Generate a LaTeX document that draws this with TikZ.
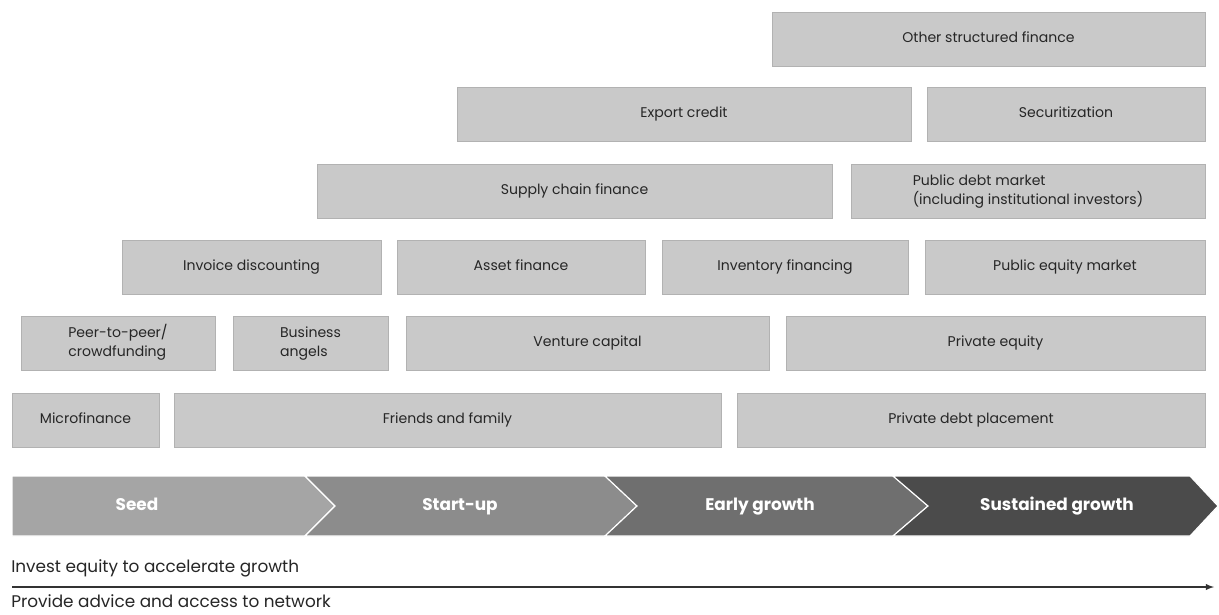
\documentclass[tikz,border=0pt]{standalone}
\usepackage{fontspec}
\setmainfont{Poppins}
\usepackage{xcolor}
\usetikzlibrary{calc}

\definecolor{seedgray}{HTML}{A5A5A5}
\definecolor{startgray}{HTML}{8C8C8C}
\definecolor{earlygray}{HTML}{6F6F6F}
\definecolor{sustgray}{HTML}{4B4B4B}

\begin{document}
\begin{tikzpicture}[x=0.025cm, y=-0.025cm,
    finbox/.style={draw=gray!60, fill=gray!42, inner sep=0pt, align=center,
                   text=black!85, font=\fontsize{10}{14}\selectfont},
    stage/.style={text=white, text height=1.5ex, text depth=0.3ex,
                  font=\bfseries\fontsize{12}{14}\selectfont},
    note/.style={anchor=west, inner sep=0pt, text=black!85, font=\fontsize{12}{14}\selectfont}]

        \useasboundingbox (0,0) rectangle (1219,614);

        % Parameters
        \def\rowHeight{54}      % height of a financing box
        \def\chevTop{476}       % top of the stage band
        \def\chevBot{536}       % bottom of the stage band
        \def\chevMid{506}       % tip height

        % Function to draw a financing box
        \newcommand{\finBox}[5]{
            % #1 name, #2 left, #3 right, #4 top, #5 text
            \pgfmathsetmacro{\boxW}{(#3-#2)*0.025}
            \node[finbox, minimum width=\boxW cm, minimum height=\rowHeight*0.025cm]
                (#1) at ({(#2+#3)/2}, {#4+\rowHeight/2}) {#5\strut};
        }

        % Financing instruments
        \finBox{other}{772}{1205}{12}{Other structured finance}

        \finBox{export}{457}{911}{87}{Export credit}
        \finBox{secur}{927}{1205}{87}{Securitization}

        \finBox{supply}{317}{832}{164}{Supply chain finance}
        \finBox{pubdebt}{851}{1205}{164}{\begin{tabular}{@{}l@{}}Public debt market\\(including institutional investors)\end{tabular}}

        \finBox{invoice}{122}{381}{240}{Invoice discounting}
        \finBox{asset}{397}{645}{240}{Asset finance}
        \finBox{inventory}{662}{908}{240}{Inventory financing}
        \finBox{pubequity}{925}{1205}{240}{Public equity market}

        \finBox{peer}{21}{215}{316}{\begin{tabular}{@{}l@{}}Peer-to-peer/\\crowdfunding\end{tabular}}
        \finBox{angels}{233}{388}{316}{\begin{tabular}{@{}l@{}}Business\\angels\end{tabular}}
        \finBox{venture}{406}{769}{316}{Venture capital}
        \finBox{privequity}{786}{1205}{316}{Private equity}

        \finBox{micro}{12}{159}{393}{Microfinance}
        \finBox{friends}{174}{721}{393}{Friends and family}
        \finBox{privdebt}{737}{1205}{393}{Private debt placement}

        % Stages
        \filldraw[seedgray, draw=white, line width=0.8pt] (12,\chevTop) -- (305,\chevTop) -- (335,\chevMid)
            -- (305,\chevBot) -- (12,\chevBot) -- cycle;
        \filldraw[startgray, draw=white, line width=0.8pt] (305,\chevTop) -- (605,\chevTop) -- (637,\chevMid)
            -- (605,\chevBot) -- (305,\chevBot) -- (335,\chevMid) -- cycle;
        \filldraw[earlygray, draw=white, line width=0.8pt] (605,\chevTop) -- (893,\chevTop) -- (928,\chevMid)
            -- (893,\chevBot) -- (605,\chevBot) -- (637,\chevMid) -- cycle;
        \filldraw[sustgray, draw=white, line width=0.8pt] (893,\chevTop) -- (1190,\chevTop) -- (1218,\chevMid)
            -- (1190,\chevBot) -- (893,\chevBot) -- (928,\chevMid) -- cycle;

        \node[stage] (seed) at (137,\chevMid) {Seed};
        \node[stage] (startup) at (460,\chevMid) {Start-up};
        \node[stage] (early) at (760,\chevMid) {Early growth};
        \node[stage] (sustained) at (1057,\chevMid) {Sustained growth};

        % Time line
        \coordinate (lineStart) at (12,587);
        \coordinate (lineEnd) at (1214,587);
        \draw[-latex, line width=1pt, black!80] (lineStart) -- (lineEnd);

        \node[note] (invest) at (11,568) {Invest equity to accelerate growth};
        \node[note] (advice) at (11,601) {Provide advice and access to network};

\end{tikzpicture}
\end{document}
